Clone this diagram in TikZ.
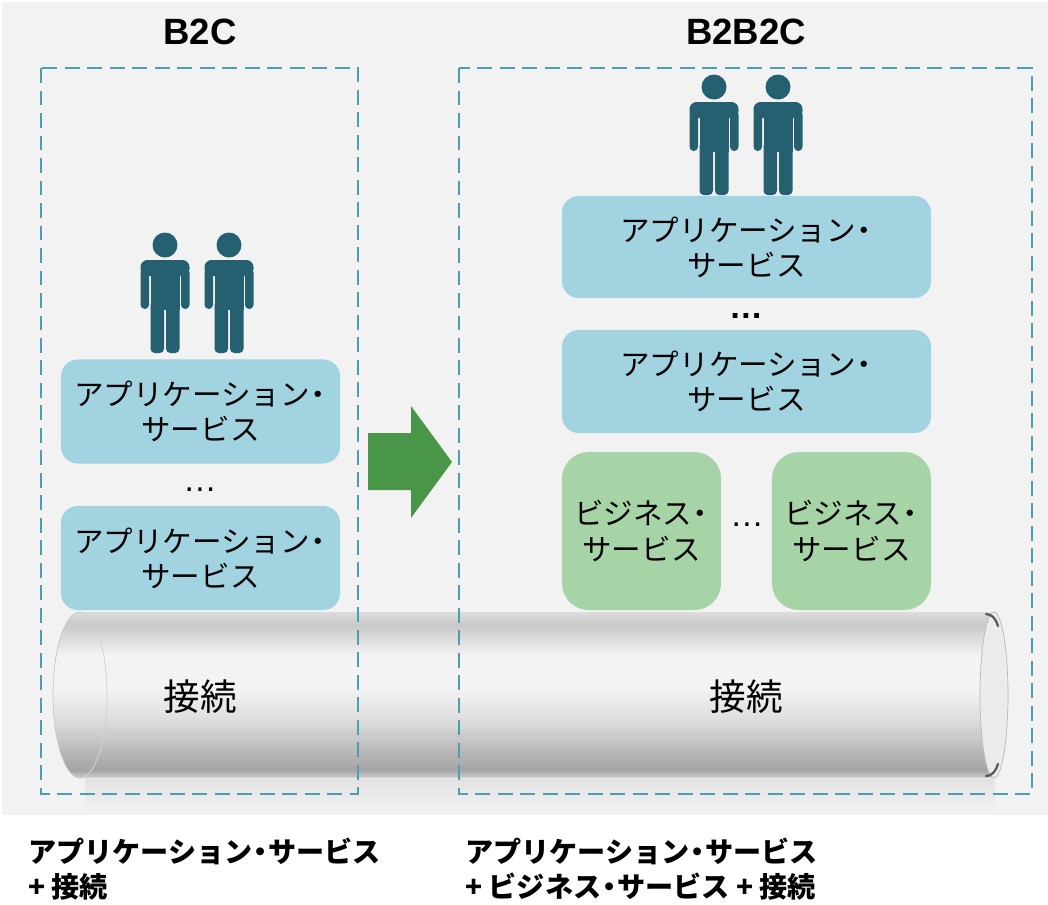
\documentclass[tikz,border=0pt]{standalone}
\usepackage{fontspec}
\setmainfont{Noto Sans CJK JP}
\newfontfamily\latinfont{Liberation Sans}

\definecolor{bgGray}{HTML}{F2F2F2}
\definecolor{frameBlue}{HTML}{4A9FB5}
\definecolor{appBlue}{HTML}{A1D3E0}
\definecolor{bizGreen}{HTML}{A7D4A6}
\definecolor{arrowGreen}{HTML}{4A9648}
\definecolor{userTeal}{HTML}{246070}
\definecolor{pipeEdge}{HTML}{CFCFCF}
\definecolor{pipeDark}{HTML}{A4A4A4}
\definecolor{pipeMid}{HTML}{B8B8B8}
\definecolor{pipeLight}{HTML}{DCDCDC}
\definecolor{pipeWhite}{HTML}{F3F3F3}
\definecolor{pipeTop}{HTML}{C9C9C9}
\definecolor{pipeFace}{HTML}{EBEBEB}

% tight middle dot
\newcommand{\nakaguro}{\kern-0.22em・\kern-0.22em}

% glass tube, bottom to top
\pgfdeclareverticalshading{glasspipe}{100bp}{%
  color(0bp)=(pipeEdge); color(25bp)=(pipeEdge); color(27.5bp)=(pipeDark);
  color(33bp)=(pipeMid); color(42bp)=(pipeLight); color(52bp)=(pipeWhite);
  color(62bp)=(pipeWhite); color(67bp)=(pipeLight); color(71bp)=(pipeTop);
  color(75bp)=(pipeLight); color(100bp)=(pipeLight)}

\begin{document}
\begin{tikzpicture}[x=0.025cm, y=-0.025cm,
  every node/.style={inner sep=0pt},
  frame/.style={draw=frameBlue, line width=1.4pt, dash pattern=on 10.5pt off 5.5pt},
  appbox/.style={rectangle, rounded corners=12pt, fill=appBlue, align=center,
    minimum height=2.6cm, font=\fontsize{21}{25}\selectfont},
  bizbox/.style={rectangle, rounded corners=19pt, fill=bizGreen, align=center,
    minimum width=3.975cm, minimum height=3.95cm, font=\fontsize{21}{25}\selectfont},
  heading/.style={font=\latinfont\bfseries\fontsize{26}{30}\selectfont},
  dots/.style={anchor=base, font=\latinfont\fontsize{24}{28}\selectfont},
  summary/.style={anchor=west, align=left, font=\bfseries\fontsize{20}{25}\selectfont},
  link/.style={font=\fontsize{26}{30}\selectfont}
]
\tikzset{
  person/.pic={
    \fill[userTeal] (0,-15) circle[radius=12.5];
    \fill[userTeal, rounded corners=5pt] (-24.5,0) rectangle (24.5,16);
    \fill[userTeal, rounded corners=3pt] (-24.5,8) rectangle (-16,49);
    \fill[userTeal, rounded corners=3pt] (16,8) rectangle (24.5,49);
    \fill[userTeal] (-14.5,8) rectangle (14.5,50);
    \fill[userTeal, rounded corners=3pt] (-14.5,40) rectangle (-1,93);
    \fill[userTeal, rounded corners=3pt] (1,40) rectangle (14.5,93);
  }
}
\useasboundingbox (0,0) rectangle (1048,904);
\fill[white] (0,0) rectangle (1048,904);
\fill[bgGray] (2,2) rectangle (1048,815);

% connection tube
\shade[top color=gray!14!bgGray, bottom color=bgGray] (85,779) rectangle (995,812);
\shade[shading=glasspipe] (80,612) -- (994,612)
  .. controls (1001.7,612) and (1008,649.2) .. (1008,695)
  .. controls (1008,740.8) and (1001.7,778) .. (994,778) -- (80,778)
  .. controls (65.1,778) and (53,740.8) .. (53,695)
  .. controls (53,649.2) and (65.1,612) .. (80,612) -- cycle;
\draw[gray!45, line width=0.5pt] (80,778)
  .. controls (65.1,778) and (53,740.8) .. (53,695)
  .. controls (53,649.2) and (65.1,612) .. (80,612);
\draw[gray!35, line width=0.6pt] (80,612)
  .. controls (95,612) and (107,649) .. (107,695)
  .. controls (107,741) and (95,778) .. (80,778);
\fill[pipeFace, draw=gray!55, line width=0.5pt] (994,612)
  .. controls (1001.7,612) and (1008,649.2) .. (1008,695)
  .. controls (1008,740.8) and (1001.7,778) .. (994,778)
  .. controls (986.3,778) and (980,740.8) .. (980,695)
  .. controls (980,649.2) and (986.3,612) .. (994,612) -- cycle;
\draw[gray!70!black, line width=1.6pt, line cap=round] (986,614) .. controls (992,614) and (996,619) .. (998,626);
\draw[gray!70!black, line width=1.6pt, line cap=round] (986,776) .. controls (992,776) and (996,771) .. (998,764);
\node[link] (linkB2C) at (200,697) {接続};
\node[link] (linkB2B2C) at (746,697) {接続};

% B2C
\node[heading] (titleB2C) at (200,32) {B2C};
\draw[frame] (41,68) rectangle (358,794);
\pic at (165,260) {person};
\pic at (229,260) {person};
\node[appbox, minimum width=6.975cm] (appA) at (200.5,411.5) {アプリケーション\nakaguro\\サービス};
\node[dots] (appDotsA) at (200,491) {…};
\node[appbox, minimum width=6.975cm] (appB) at (200.5,558) {アプリケーション\nakaguro\\サービス};

% shift arrow
\fill[arrowGreen] (368,433) -- (411,433) -- (411,406) -- (452,462) -- (411,518) -- (411,490) -- (368,490) -- cycle;

% B2B2C
\node[heading] (titleB2B2C) at (746,32) {B2B2C};
\draw[frame] (459,68) rectangle (1032,794);
\pic at (714,102) {person};
\pic at (778,102) {person};
\node[appbox, minimum width=9.225cm, minimum height=2.55cm] (appC) at (746.5,247) {アプリケーション\nakaguro\\サービス};
\node[dots, font=\latinfont\bfseries\fontsize{24}{28}\selectfont] (appDotsB) at (746,318) {…};
\node[appbox, minimum width=9.225cm, minimum height=2.575cm] (appD) at (746.5,381.5) {アプリケーション\nakaguro\\サービス};
\node[bizbox] (bizA) at (641.5,531) {ビジネス\nakaguro\\サービス};
\node[dots] (bizDots) at (747,526) {…};
\node[bizbox] (bizB) at (851.5,531) {ビジネス\nakaguro\\サービス};

% summaries
\node[summary] (sumB2C) at (28,869) {アプリケーション\nakaguro サービス\\+ 接続};
\node[summary] (sumB2B2C) at (465,869) {アプリケーション\nakaguro サービス\\+ ビジネス\nakaguro サービス + 接続};
\end{tikzpicture}
\end{document}
